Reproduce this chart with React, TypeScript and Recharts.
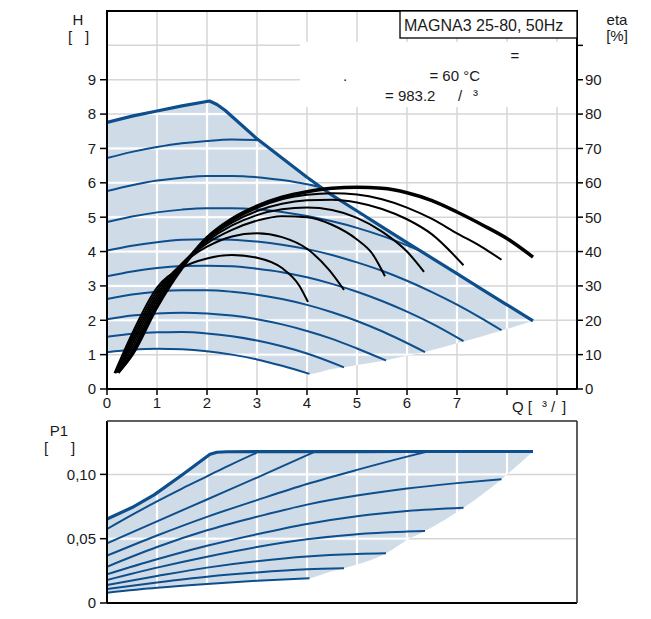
import React from 'react';
import { ComposedChart, Line, Area, XAxis, YAxis, CartesianGrid, ReferenceLine } from 'recharts';

type P = [number, number];

// ---- axes ----
const qTicks = [0, 1, 2, 3, 4, 5, 6, 7, 8, 9];
const hTicks = [0, 1, 2, 3, 4, 5, 6, 7, 8, 9];
const etaTicks = [0, 10, 20, 30, 40, 50, 60, 70, 80, 90, 100];
const pTicks = [0, 0.05, 0.1];

// ---- H (Q) curves ----
const hMax: P[] = [[0, 7.76], [0.5, 7.94], [1, 8.09], [1.5, 8.24], [2.05, 8.38], [2.2, 8.28], [2.36, 8.11], [3, 7.28], [3.5, 6.72], [4, 6.16], [4.5, 5.64], [5, 5.18], [5.5, 4.72], [6, 4.26], [6.5, 3.81], [7, 3.36], [7.5, 2.9], [8, 2.45], [8.52, 1.98]];
const h9: P[] = [[0, 6.72], [0.5, 6.9], [1, 7.04], [1.5, 7.15], [2, 7.22], [2.5, 7.26], [3.03, 7.24]];
const h8: P[] = [[0, 5.76], [0.5, 5.93], [1, 6.065], [1.5, 6.15], [2, 6.2], [2.5, 6.2], [3, 6.165], [3.5, 6.08], [4, 5.96], [4.3, 5.86]];
const h7: P[] = [[0, 4.86], [0.5, 5.02], [1, 5.14], [1.5, 5.22], [2, 5.26], [2.5, 5.26], [3, 5.23], [3.5, 5.15], [4, 5.035], [4.5, 4.88], [5, 4.69], [5.5, 4.455], [6, 4.18], [6.3, 4.0]];
const h6: P[] = [[0, 4.03], [0.5, 4.17], [1, 4.27], [1.5, 4.34], [2, 4.36], [2.5, 4.345], [3, 4.29], [3.5, 4.2], [4, 4.07], [4.5, 3.9], [5, 3.685], [5.5, 3.44], [6, 3.15], [6.5, 2.82], [7, 2.455], [7.5, 2.05], [7.89, 1.71]];
const h5: P[] = [[0, 3.28], [0.5, 3.42], [1, 3.52], [1.5, 3.576], [2, 3.59], [2.5, 3.57], [3, 3.5], [3.5, 3.4], [4, 3.25], [4.5, 3.06], [5, 2.83], [5.5, 2.56], [6, 2.25], [6.5, 1.9], [7.13, 1.39]];
const h4: P[] = [[0, 2.62], [0.5, 2.747], [1, 2.832], [1.5, 2.874], [2, 2.874], [2.5, 2.83], [3, 2.746], [3.5, 2.618], [4, 2.448], [4.5, 2.235], [5, 1.98], [5.5, 1.68], [6.36, 1.075]];
const h3: P[] = [[0, 2.03], [0.5, 2.136], [1, 2.2], [1.5, 2.221], [2, 2.2], [2.5, 2.136], [3, 2.03], [3.5, 1.88], [4, 1.69], [4.5, 1.46], [5, 1.18], [5.58, 0.83]];
const h2: P[] = [[0, 1.52], [0.5, 1.608], [1, 1.653], [1.5, 1.656], [2, 1.616], [2.5, 1.534], [3, 1.409], [3.5, 1.242], [4, 1.032], [4.74, 0.63]];
const h1: P[] = [[0, 1.07], [0.5, 1.14], [1, 1.17], [1.5, 1.156], [2, 1.1], [2.5, 1.0], [3, 0.86], [3.5, 0.676], [4.05, 0.44]];

// shaded operating range (Q, low, high)
const hBandQ = [0, 0.5, 1, 1.5, 2, 2.05, 2.2, 2.36, 3, 3.5, 4, 4.05, 4.5, 4.74, 5, 5.58, 6, 6.36, 7, 7.13, 7.89, 8.52];
const hBandLow = [1.07, 1.14, 1.17, 1.156, 1.1, 1.09, 1.06, 1.03, 0.86, 0.676, 0.46, 0.44, 0.58, 0.63, 0.7, 0.84, 0.97, 1.08, 1.33, 1.38, 1.7, 1.98];
const hBandHigh = [7.76, 7.94, 8.09, 8.24, 8.36, 8.38, 8.28, 8.11, 7.28, 6.72, 6.16, 6.11, 5.64, 5.43, 5.18, 4.65, 4.26, 3.94, 3.36, 3.24, 2.54, 1.98];

// ---- efficiency curves (eta %) ----
const etaA: P[] = [[0.15, 4.6], [0.5, 16], [1, 29.5], [1.5, 35.3], [2, 38], [2.5, 39], [3, 38.2], [3.5, 35.2], [3.85, 30], [4.02, 25.3]];
const etaB: P[] = [[0.16, 4.6], [0.5, 15], [1, 28.6], [1.5, 36.4], [2, 41.4], [2.5, 44.4], [3, 45.3], [3.5, 44.2], [4, 40.8], [4.45, 34.5], [4.74, 28.8]];
const etaC: P[] = [[0.17, 4.7], [0.5, 14], [1, 27.6], [1.5, 36.5], [2, 42.4], [2.5, 46.3], [3, 49], [3.5, 50.3], [4, 50], [4.5, 47.8], [5, 43.5], [5.3, 39.5], [5.56, 32.8]];
const etaD: P[] = [[0.18, 4.7], [0.5, 13], [1, 26.7], [1.5, 36.4], [2, 43], [2.5, 47.6], [3, 50.6], [3.5, 52.3], [4, 52.8], [4.5, 52.1], [5, 49.8], [5.5, 45.8], [6, 40], [6.34, 34.1]];
const etaE: P[] = [[0.19, 4.8], [0.5, 12], [1, 25.8], [1.5, 36.2], [2, 43.4], [2.5, 48.4], [3, 51.8], [3.5, 53.9], [4, 54.9], [4.5, 55.1], [5, 54.3], [5.5, 52.4], [6, 49.4], [6.5, 45], [7.13, 36]];
const etaF: P[] = [[0.2, 4.8], [0.5, 11], [1, 24.9], [1.5, 35.8], [2, 43.8], [2.5, 49], [3, 52.7], [3.5, 55.2], [4, 56.5], [4.5, 57], [5, 56.6], [5.5, 55.2], [6, 52.8], [6.5, 49.5], [7, 45.3], [7.5, 41.3], [7.89, 37.6]];
const etaG: P[] = [[0.22, 4.8], [0.5, 10], [1, 24], [1.5, 35.3], [2, 44], [2.5, 49.5], [3, 53.2], [3.5, 55.8], [4, 57.4], [4.5, 58.4], [5, 58.7], [5.5, 58.4], [6, 57.1], [6.5, 54.8], [7, 51.5], [7.5, 47.8], [8, 43.8], [8.52, 38.4]];

// ---- P1 (Q) curves ----
const pMax: P[] = [[0, 0.0653], [0.5, 0.0742], [0.95, 0.0843], [1.5, 0.0995], [2.06, 0.1156], [2.2, 0.1172], [2.4, 0.1176], [3, 0.1177], [4, 0.1177], [5, 0.1177], [6, 0.1178], [7, 0.1178], [8, 0.1178], [8.52, 0.1178]];
const p9: P[] = [[0, 0.0575], [0.5, 0.0685], [1, 0.079], [1.5, 0.089], [2, 0.0985], [2.5, 0.108], [2.99, 0.1168]];
const p8: P[] = [[0, 0.0464], [1, 0.0635], [2, 0.0805], [3, 0.0975], [4.13, 0.1172]];
const p7: P[] = [[0, 0.0368], [1, 0.0525], [2, 0.067], [3, 0.08], [4, 0.0925], [5, 0.1035], [6, 0.1138], [6.39, 0.1176]];
const p6: P[] = [[0, 0.0282], [1, 0.0435], [2, 0.0565], [3, 0.067], [4, 0.0765], [5, 0.0835], [6, 0.089], [7, 0.0932], [7.89, 0.0963]];
const p5: P[] = [[0, 0.0223], [1, 0.034], [2, 0.0445], [3, 0.0535], [4, 0.0615], [5, 0.0675], [6, 0.0715], [7.13, 0.074]];
const p4: P[] = [[0, 0.0179], [1, 0.0275], [2, 0.036], [3, 0.0435], [4, 0.0495], [5, 0.0535], [6, 0.0555], [6.36, 0.056]];
const p3: P[] = [[0, 0.014], [1, 0.021], [2, 0.0275], [3, 0.0325], [4, 0.0362], [5, 0.0381], [5.58, 0.0386]];
const p2: P[] = [[0, 0.0109], [1, 0.016], [2, 0.0205], [3, 0.0238], [4, 0.0262], [4.74, 0.027]];
const p1: P[] = [[0, 0.008], [1, 0.0118], [2, 0.0148], [3, 0.0173], [4.05, 0.0193]];

const pBandQ = [0, 0.5, 0.95, 1.5, 2.06, 2.2, 2.4, 3, 4, 4.05, 4.46, 4.74, 5.58, 6, 6.36, 7.13, 7.89, 8.52];
const pBandLow = [0.008, 0.0099, 0.0116, 0.0133, 0.015, 0.0154, 0.016, 0.0173, 0.019, 0.0193, 0.0243, 0.027, 0.0386, 0.049, 0.056, 0.074, 0.0963, 0.1178];
const pBandHigh = [0.0653, 0.0742, 0.0843, 0.0995, 0.1156, 0.1172, 0.1176, 0.1177, 0.1177, 0.1177, 0.1177, 0.1177, 0.1178, 0.1178, 0.1178, 0.1178, 0.1178, 0.1178];

const pts = (a: P[]) => a.map(([q, v]) => ({ q, v }));
const band = (qs: number[], lo: number[], hi: number[]) => qs.map((q, i) => ({ q, r: [lo[i], hi[i]] }));

const FONT = 'Liberation Sans, Arial, sans-serif';
const BLUE = '#0d4e8c';
const SHADE = '#cfdbe7';
const GRID = '#d6d6d6';

const tickStyle = { fontSize: 15, fill: '#1a1a1a', fontFamily: FONT };

// plot geometry (layout only)
const TOP_H = 420;
const TOP_PLOT_H = 378;
const BOT_H = 209;
const BOT_PLOT_H = 182;
const P_MAXDOM = 0.1415;

const blueLine = (d: P[], key: string, w = 2, t: 'monotone' | 'linear' = 'monotone') => (
  <Line key={key} data={pts(d)} dataKey="v" yAxisId="h" type={t} stroke={BLUE} strokeWidth={w} strokeLinejoin="round" dot={false} activeDot={false} isAnimationActive={false} />
);
const etaLine = (d: P[], key: string, w = 2) => (
  <Line key={key} data={pts(d)} dataKey="v" yAxisId="eta" type="monotone" stroke="#000" strokeWidth={w} dot={false} activeDot={false} isAnimationActive={false} />
);
const pLine = (d: P[], key: string, w = 2, t: 'monotone' | 'linear' = 'monotone') => (
  <Line key={key} data={pts(d)} dataKey="v" yAxisId="p" type={t} stroke={BLUE} strokeWidth={w} strokeLinejoin="round" dot={false} activeDot={false} isAnimationActive={false} />
);

export default function App() {
  const cellH = TOP_PLOT_H / 11;
  const cellP = (0.05 * BOT_PLOT_H) / P_MAXDOM;
  return (
    <div style={{ position: 'absolute', left: 0, top: 0, width: 651, height: 619, background: '#fff', fontFamily: FONT }}>
      <div style={{ position: 'absolute', left: 0, top: 0 }}>
        <ComposedChart width={651} height={TOP_H} margin={{ top: 11, right: 34, bottom: 6, left: 67 }}>
          <defs>
            <pattern id="bandTop" patternUnits="userSpaceOnUse" x={107} y={389} width={50} height={cellH}>
              <rect x={0} y={0} width={50} height={cellH} fill={SHADE} />
              <rect x={0} y={0} width={1.1} height={cellH} fill="#fff" />
              <rect x={48.9} y={0} width={1.1} height={cellH} fill="#fff" />
              <rect x={0} y={0} width={50} height={1.1} fill="#fff" />
              <rect x={0} y={cellH - 1.1} width={50} height={1.1} fill="#fff" />
            </pattern>
          </defs>
          <CartesianGrid yAxisId="h" stroke={GRID} strokeWidth={1.5} />
          <ReferenceLine yAxisId="h" y={10} stroke={GRID} strokeWidth={1.5} />
          <XAxis type="number" dataKey="q" domain={[0, 9.4]} ticks={qTicks} allowDataOverflow height={25}
            tickFormatter={(v: number) => (v <= 7 ? String(v) : '')}
            tick={tickStyle} tickSize={6} tickMargin={2}
            axisLine={{ stroke: '#000', strokeWidth: 2 }} tickLine={{ stroke: '#000', strokeWidth: 1.5 }} />
          <YAxis yAxisId="h" type="number" domain={[0, 11]} ticks={hTicks} allowDataOverflow width={40}
            tick={tickStyle} tickSize={7} tickMargin={4}
            axisLine={{ stroke: '#000', strokeWidth: 2 }} tickLine={{ stroke: '#000', strokeWidth: 1.5 }} />
          <YAxis yAxisId="eta" orientation="right" type="number" domain={[0, 110]} ticks={etaTicks} allowDataOverflow width={40}
            tickFormatter={(v: number) => (v === 100 ? '' : String(v))}
            tick={tickStyle} tickSize={6} tickMargin={2}
            axisLine={{ stroke: '#000', strokeWidth: 2 }} tickLine={{ stroke: '#000', strokeWidth: 1.5 }} />
          <Area data={band(hBandQ, hBandLow, hBandHigh)} dataKey="r" yAxisId="h" type="monotone" stroke="none" fill="url(#bandTop)" fillOpacity={1} dot={false} activeDot={false} isAnimationActive={false} />
          {blueLine(h1, 'h1')}
          {blueLine(h2, 'h2')}
          {blueLine(h3, 'h3')}
          {blueLine(h4, 'h4')}
          {blueLine(h5, 'h5')}
          {blueLine(h6, 'h6')}
          {blueLine(h7, 'h7')}
          {blueLine(h8, 'h8')}
          {blueLine(h9, 'h9')}
          {blueLine(hMax, 'hmax', 3.2, 'linear')}
          {etaLine(etaA, 'ea')}
          {etaLine(etaB, 'eb')}
          {etaLine(etaC, 'ec')}
          {etaLine(etaD, 'ed')}
          {etaLine(etaE, 'ee')}
          {etaLine(etaF, 'ef')}
          {etaLine(etaG, 'eg', 3.5)}
        </ComposedChart>
      </div>
      <div style={{ position: 'absolute', left: 0, top: 410 }}>
        <ComposedChart width={651} height={BOT_H} margin={{ top: 11, right: 74, bottom: 6, left: 67 }}>
          <defs>
            <pattern id="bandBot" patternUnits="userSpaceOnUse" x={107} y={193} width={50} height={cellP}>
              <rect x={0} y={0} width={50} height={cellP} fill={SHADE} />
              <rect x={0} y={0} width={1.1} height={cellP} fill="#fff" />
              <rect x={48.9} y={0} width={1.1} height={cellP} fill="#fff" />
              <rect x={0} y={0} width={50} height={1.1} fill="#fff" />
              <rect x={0} y={cellP - 1.1} width={50} height={1.1} fill="#fff" />
            </pattern>
          </defs>
          <CartesianGrid yAxisId="p" stroke={GRID} strokeWidth={1.5} />
          <XAxis type="number" dataKey="q" domain={[0, 9.4]} ticks={qTicks} allowDataOverflow height={10}
            tick={false} tickLine={false} axisLine={{ stroke: '#000', strokeWidth: 2 }} />
          <YAxis yAxisId="p" type="number" domain={[0, P_MAXDOM]} ticks={pTicks} allowDataOverflow width={40}
            tickFormatter={(v: number) => (v === 0 ? '0' : v.toFixed(2).replace('.', ','))}
            tick={tickStyle} tickSize={7} tickMargin={4}
            axisLine={{ stroke: '#000', strokeWidth: 2 }} tickLine={{ stroke: '#000', strokeWidth: 1.5 }} />
          <Area data={band(pBandQ, pBandLow, pBandHigh)} dataKey="r" yAxisId="p" type="monotone" stroke="none" fill="url(#bandBot)" fillOpacity={1} dot={false} activeDot={false} isAnimationActive={false} />
          {pLine(p1, 'p1')}
          {pLine(p2, 'p2')}
          {pLine(p3, 'p3')}
          {pLine(p4, 'p4')}
          {pLine(p5, 'p5')}
          {pLine(p6, 'p6')}
          {pLine(p7, 'p7')}
          {pLine(p8, 'p8')}
          {pLine(p9, 'p9')}
          {pLine(pMax, 'pmax', 3.2, 'linear')}
        </ComposedChart>
      </div>
      <svg width={651} height={619} style={{ position: 'absolute', left: 0, top: 0, pointerEvents: 'none' }} fontFamily={FONT} fill="#1a1a1a">
        <rect x={300} y={42} width={276} height={65} fill="#fff" />
        <line x1={106} y1={11} x2={578} y2={11} stroke="#000" strokeWidth={2} />
        <rect x={400} y={11} width={177} height={27} fill="#fff" stroke="#000" strokeWidth={1.3} />
        <text x={404} y={31} fontSize={16}>MAGNA3 25-80, 50Hz</text>
        <text x={515} y={61} fontSize={15} textAnchor="middle">=</text>
        <text x={343} y={81} fontSize={15}>.</text>
        <text x={480} y={81} fontSize={15} textAnchor="end">= 60 °C</text>
        <text x={385} y={101} fontSize={15}>= 983.2</text>
        <text x={458} y={101} fontSize={15}>/</text>
        <text x={473} y={100} fontSize={15}>³</text>
        <text x={78} y={25} fontSize={15} textAnchor="middle">H</text>
        <text x={70} y={42} fontSize={15} textAnchor="middle">[</text>
        <text x={87} y={42} fontSize={15} textAnchor="middle">]</text>
        <text x={617} y={25} fontSize={15} textAnchor="middle">eta</text>
        <text x={617} y={41} fontSize={15} textAnchor="middle">[%]</text>
        <text x={512} y={412} fontSize={15}>Q [</text>
        <text x={542} y={411} fontSize={15}>³</text>
        <text x={551} y={412} fontSize={15}>/</text>
        <text x={562} y={412} fontSize={15}>]</text>
        <text x={59} y={436} fontSize={15} textAnchor="middle">P1</text>
        <text x={46} y={453} fontSize={15} textAnchor="middle">[</text>
        <text x={73} y={453} fontSize={15} textAnchor="middle">]</text>
        <line x1={107} y1={421} x2={577} y2={421} stroke="#333" strokeWidth={1.5} />
        <line x1={577} y1={421} x2={577} y2={603} stroke="#333" strokeWidth={1.5} />
      </svg>
    </div>
  );
}
